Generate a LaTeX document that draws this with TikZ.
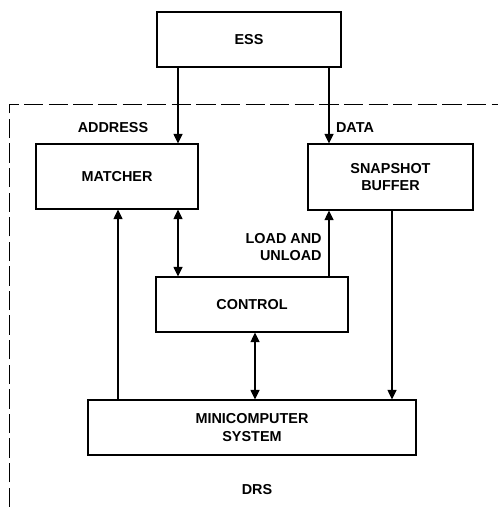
\documentclass[tikz,border=0pt]{standalone}
\usepackage{fontspec}
\setmainfont{Liberation Sans}
\usetikzlibrary{positioning, arrows.meta, calc}

\begin{document}
\begin{tikzpicture}[x=0.02cm, y=-0.02cm,
  font=\fontsize{8.2}{10}\selectfont\bfseries,
  blk/.style={draw, line width=0.6pt, align=center, inner sep=0pt},
  arr/.style={-{Triangle[length=5.5pt, width=5pt]}, line width=1.2pt},
  biarr/.style={{Triangle[length=5.5pt, width=5pt]}-{Triangle[length=5.5pt, width=5pt]}, line width=1.2pt},
  lbl/.style={inner sep=0pt}]
  \useasboundingbox (0,0) rectangle (498,507);
  % DRS boundary
  \draw[line width=0.5pt, dash pattern=on 11pt off 3pt] (9,507) -- (9,104) -- (498,104);
  % blocks
  \node[blk, minimum width=184*0.02cm, minimum height=55*0.02cm] (ess) at (249,39.5) {ESS};
  \node[blk, minimum width=162*0.02cm, minimum height=65*0.02cm] (matcher) at (117,176.5) {MATCHER};
  \node[blk, minimum width=165*0.02cm, minimum height=66*0.02cm] (snap) at (390.5,177) {SNAPSHOT\\BUFFER};
  \node[blk, minimum width=192*0.02cm, minimum height=55*0.02cm] (ctrl) at (252,304.5) {CONTROL};
  \node[blk, minimum width=328*0.02cm, minimum height=55*0.02cm] (mini) at (252,427.5) {MINICOMPUTER\\SYSTEM};
  % labels
  \node[lbl] (addr) at (113,128) {ADDRESS};
  \node[lbl] (data) at (355,128) {DATA};
  \node[lbl, anchor=east, align=right] (load) at (322,247) {LOAD AND\\UNLOAD};
  \node[lbl] (drs) at (257,490) {DRS};
  % connectors
  \draw[arr] (ess.south -| 178,0) -- (matcher.north -| 178,0);
  \draw[arr] (ess.south -| 329,0) -- (snap.north -| 329,0);
  \draw[arr] (mini.north -| 118,0) -- (matcher.south -| 118,0);
  \draw[biarr] (matcher.south -| 178,0) -- (ctrl.north -| 178,0);
  \draw[arr] (ctrl.north -| 329,0) -- (snap.south -| 329,0);
  \draw[arr] (snap.south -| 392,0) -- (mini.north -| 392,0);
  \draw[biarr] (ctrl.south -| 255,0) -- (mini.north -| 255,0);
\end{tikzpicture}
\end{document}
